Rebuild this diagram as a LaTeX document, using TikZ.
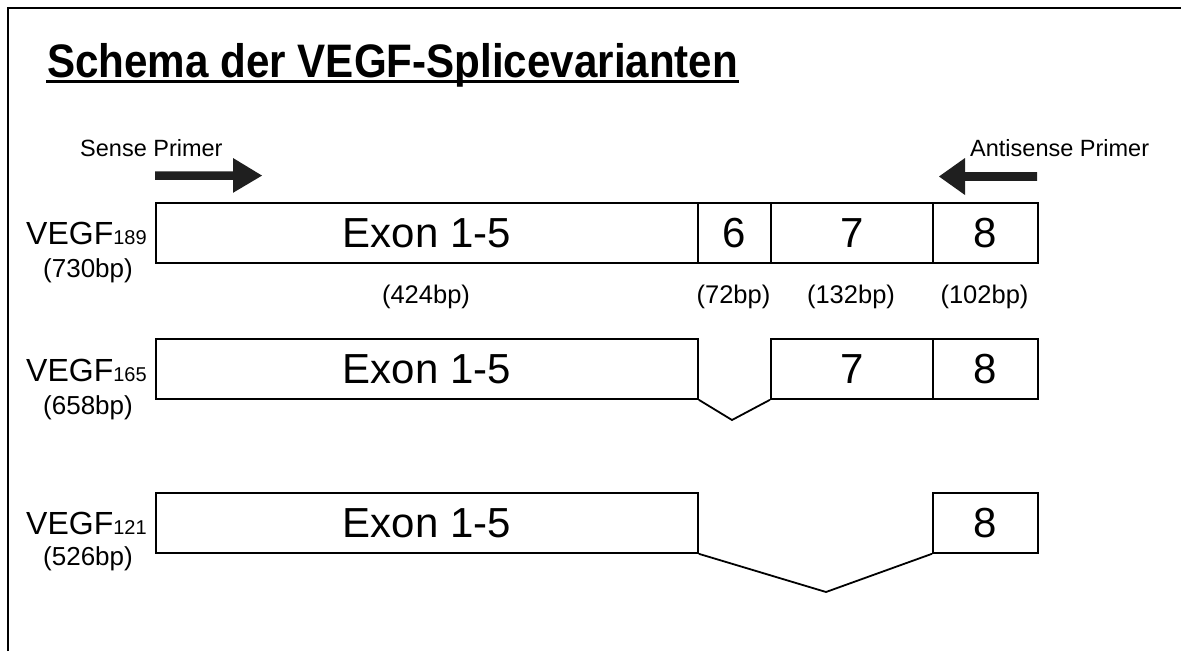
\documentclass[tikz,border=0pt]{standalone}
\usepackage{fontspec}
\setmainfont{Liberation Sans}
\usepackage{graphicx}
\tikzset{
  exonbox/.style={draw, line width=1.8pt, fill=white, inner sep=0pt, minimum height=60pt,
    text height=30pt, text depth=0pt, font=\fontsize{42}{50}\selectfont, anchor=north west},
  splice/.style={line width=1.8pt, line join=miter},
  primerarrow/.style={fill=black!88},
  frameline/.style={line width=2pt},
  lbl/.style={anchor=base west, inner sep=0pt},
  sizelbl/.style={anchor=base, inner sep=0pt, font=\fontsize{25.5}{30}\selectfont},
  primertext/.style={anchor=base west, inner sep=0pt, font=\fontsize{23.5}{28}\selectfont}
}
\newcommand{\veglabel}[1]{{\fontsize{32}{38}\selectfont VEGF}{\fontsize{20}{24}\selectfont #1}}
\begin{document}
\begin{tikzpicture}[x=1pt,y=-1pt]
\useasboundingbox (0,0) rectangle (1181,651);
% frame (top and left edges)
\draw[frameline] (8,651) -- (8,8) -- (1181,8);
% title
\node[anchor=base west, inner sep=0pt] (title) at (47,77)
  {\resizebox{691pt}{\height}{\fontsize{47}{56}\selectfont\bfseries Schema der VEGF-Splicevarianten}};
\draw[line width=3pt] (46,81.7) -- (739,81.7);
% primers
\node[primertext] (sense) at (80,156) {Sense Primer};
\node[primertext] (antisense) at (970,156) {Antisense Primer};
\fill[primerarrow] (155,171.4) -- (233,171.4) -- (233,158) -- (262,175.6) -- (233,192.8) -- (233,179.8) -- (155,179.8) -- cycle;
\fill[primerarrow] (1037,172.2) -- (965,172.2) -- (965,158) -- (939,176.5) -- (965,195) -- (965,180.8) -- (1037,180.8) -- cycle;
% row 1: VEGF189
\node[exonbox, minimum width=542pt] (ea) at (155,202) {Exon 1-5};
\node[exonbox, minimum width=73pt] (sixa) at (697,202) {6};
\node[exonbox, minimum width=162pt] (sevena) at (770,202) {7};
\node[exonbox, minimum width=105pt] (eighta) at (932,202) {8};
\node[sizelbl] (s424) at (426,303) {(424bp)};
\node[sizelbl] (s72) at (733.5,303) {(72bp)};
\node[sizelbl] (s132) at (851,303) {(132bp)};
\node[sizelbl] (s102) at (984.5,303) {(102bp)};
\node[lbl] (v189) at (26,244) {\veglabel{189}};
\node[lbl, font=\fontsize{26}{31}\selectfont] (bp730) at (43,277) {(730bp)};
% row 2: VEGF165
\node[exonbox, minimum width=542pt] (eb) at (155,338) {Exon 1-5};
\node[exonbox, minimum width=162pt] (sevenb) at (770,338) {7};
\node[exonbox, minimum width=105pt] (eightb) at (932,338) {8};
\coordinate (vb) at (732,420);
\draw[splice] (eb.south east) -- (vb) -- (sevenb.south west);
\node[lbl] (v165) at (26,381) {\veglabel{165}};
\node[lbl, font=\fontsize{26}{31}\selectfont] (bp658) at (43,414) {(658bp)};
% row 3: VEGF121
\node[exonbox, minimum width=542pt] (ec) at (155,492) {Exon 1-5};
\node[exonbox, minimum width=105pt] (eightc) at (932,492) {8};
\coordinate (vc) at (826,592);
\draw[splice] (ec.south east) -- (vc) -- (eightc.south west);
\node[lbl] (v121) at (26,534) {\veglabel{121}};
\node[lbl, font=\fontsize{26}{31}\selectfont] (bp526) at (43,565) {(526bp)};
\end{tikzpicture}
\end{document}
